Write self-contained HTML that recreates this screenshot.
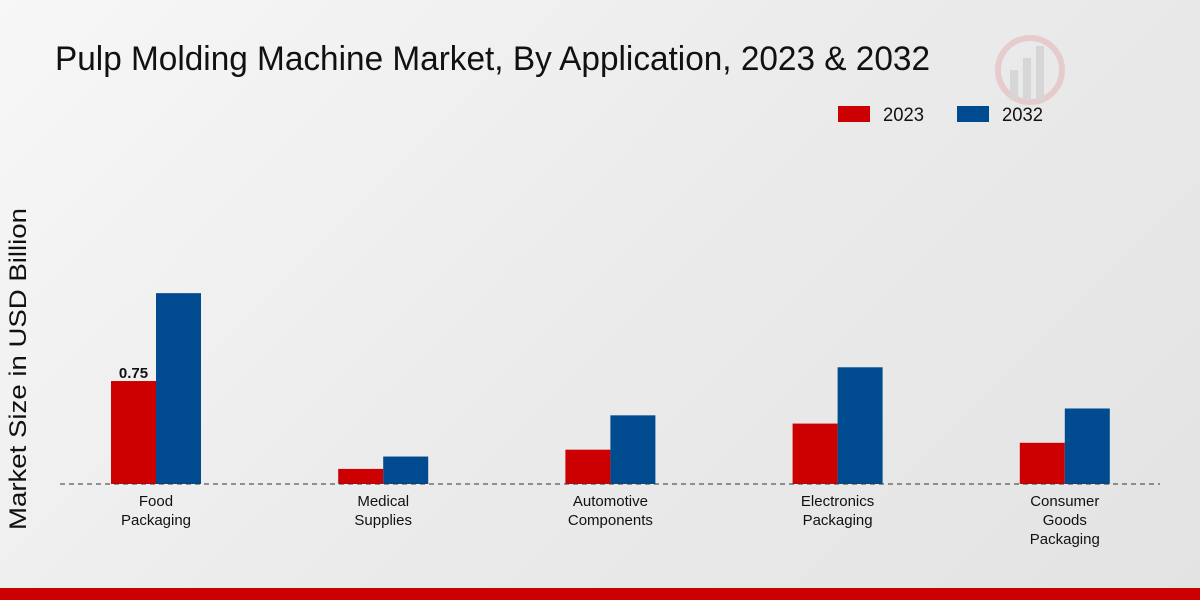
<!DOCTYPE html>
<html><head><meta charset="utf-8">
<style>
body{margin:0;width:1200px;height:600px;overflow:hidden;font-family:"Liberation Sans",sans-serif;}
#bg{position:absolute;left:0;top:0;width:1200px;height:600px;background:linear-gradient(135deg,#f7f7f7 0%,#ebebeb 50%,#e3e3e3 100%);}
</style></head>
<body>
<div id="bg"></div>
<svg id="chart" width="1200" height="600" style="position:absolute;left:0;top:0">
<g opacity="0.12">
<circle cx="1030" cy="70" r="32" fill="none" stroke="#cc0000" stroke-width="6"/>
<rect x="1010" y="70" width="8" height="30" fill="#555"/>
<rect x="1023" y="58" width="8" height="42" fill="#555"/>
<rect x="1036" y="46" width="8" height="54" fill="#555"/>
</g>
<text x="55" y="70" font-size="34" fill="#111" textLength="875" lengthAdjust="spacingAndGlyphs">Pulp Molding Machine Market, By Application, 2023 &amp; 2032</text>
<g>
<rect x="838" y="106" width="32" height="16" fill="#cc0000"/>
<text x="883" y="121" font-size="19" fill="#111" textLength="41" lengthAdjust="spacingAndGlyphs">2023</text>
<rect x="957" y="106" width="32" height="16" fill="#004a8f"/>
<text x="1002" y="121" font-size="19" fill="#111" textLength="41" lengthAdjust="spacingAndGlyphs">2032</text>
</g>
<text transform="translate(26,369) rotate(-90)" text-anchor="middle" font-size="24" fill="#111" textLength="322" lengthAdjust="spacingAndGlyphs">Market Size in USD Billion</text>
<g id="bars"></g>
<line x1="60" y1="484" x2="1160" y2="484" stroke="#333" stroke-dasharray="5,4" stroke-width="1"/>
<g id="labels"></g>
<rect x="0" y="588" width="1200" height="12" fill="#cc0000"/>
</svg>
<script>
const categories=[["Food","Packaging"],["Medical","Supplies"],["Automotive","Components"],["Electronics","Packaging"],["Consumer","Goods","Packaging"]];
const values2023=[0.75,0.11,0.25,0.44,0.30];
const values2032=[1.39,0.20,0.50,0.85,0.55];
const shownLabels=["0.75",null,null,null,null];
const NS="http://www.w3.org/2000/svg";
const base=484, pxPerUnit=137.3;
const y=v=>base-v*pxPerUnit;
const xc=i=>156+i*227.2;
const bars=document.getElementById('bars'), labels=document.getElementById('labels');
function mk(tag,attrs,parent){const e=document.createElementNS(NS,tag);for(const k in attrs)e.setAttribute(k,attrs[k]);parent.appendChild(e);return e;}
categories.forEach((c,i)=>{
  const r=mk('rect',{x:xc(i)-45,y:y(values2023[i]),width:45,height:base-y(values2023[i]),fill:'#cc0000'},bars);
  
  
  const b=mk('rect',{x:xc(i),y:y(values2032[i]),width:45,height:base-y(values2032[i]),fill:'#004a8f'},bars);
  
  
  if(shownLabels[i]){
    const t=mk('text',{x:xc(i)-22.5,y:y(values2023[i])-3,'text-anchor':'middle','font-size':15,'font-weight':'bold',fill:'#111'},bars);
    t.textContent=shownLabels[i];
    
    
  }
  const t=mk('text',{'text-anchor':'middle','font-size':15,fill:'#111'},labels);
  
  
  c.forEach((line,j)=>{const s=mk('tspan',{x:xc(i),y:506+j*19},t);s.textContent=line;});
});
</script>
</body></html>
